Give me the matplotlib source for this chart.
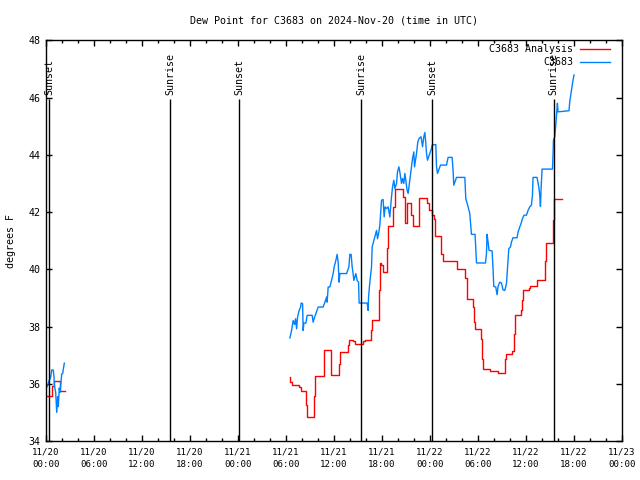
import numpy as np
import matplotlib
matplotlib.use('Agg')
import matplotlib.pyplot as plt
import matplotlib.dates as mdates

start = np.datetime64('2024-11-20T00:00')

# hours after 11/20 00:00 UTC, dew point in degrees F
obs_hours_a = [0.16, 0.375, 0.59, 0.71, 0.91, 1.0, 1.04, 1.21, 1.34, 1.46, 1.54,
               1.66, 1.75, 1.875, 1.96, 2.09, 2.16, 2.29]
obs_vals_a = [35.9, 36.1, 36.23, 36.48, 36.48, 36.23, 35.95, 35.7, 35.0, 35.55, 35.2,
              35.85, 35.7, 36.05, 36.34, 36.36, 36.5, 36.72]

obs_hours_b = [30.5, 30.71, 30.91, 31.09, 31.21, 31.34, 31.46, 31.66, 31.84, 31.91,
               32.09, 32.16, 32.25, 32.5, 32.66, 33.29, 33.41, 33.59, 33.75, 34.04,
               34.66, 34.88, 35.09, 35.16, 35.29, 35.5, 35.71, 35.91, 36.04, 36.25,
               36.41, 36.54, 36.66, 36.75, 37.59, 37.88, 38.0, 38.16, 38.29, 38.41,
               38.5, 38.75, 38.91, 39.09, 39.16, 40.16, 40.29, 40.34, 40.5, 40.71,
               40.79, 41.13, 41.34, 41.46, 41.63, 41.75, 41.88, 41.96, 42.16, 42.29,
               42.41, 42.59, 42.79, 43.0, 43.21, 43.34, 43.5, 43.63, 43.84, 43.96,
               44.13, 44.25, 44.46, 44.59, 44.75, 44.88, 45.0, 45.16, 45.29, 45.71,
               45.84, 46.0, 46.09, 46.34, 46.5, 46.66, 46.91, 47.09, 47.25, 47.38,
               47.5, 47.59, 47.71, 48.0, 48.21, 48.29, 48.75, 48.84, 48.96, 49.34,
               50.09, 50.29, 50.79, 50.91, 51.0, 51.34, 52.38, 52.5, 52.79, 53.0,
               53.13, 53.21, 53.66, 53.75, 53.84, 54.96, 55.09, 55.16, 55.29, 55.41,
               55.79, 55.91, 56.0, 56.25, 56.41, 56.54, 56.75, 56.96, 57.16, 57.38,
               57.59, 57.71, 57.88, 58.09, 58.21, 58.41, 58.91, 59.04, 59.25, 59.38,
               59.59, 59.79, 60.09, 60.29, 60.5, 60.71, 60.84, 60.91, 61.41, 61.63,
               61.75, 61.84, 61.91, 62.04, 63.34, 63.41, 63.46, 63.63, 63.84, 63.96,
               64.04, 65.41, 65.5, 65.63, 65.79, 65.91, 66.04]
obs_vals_b = [37.6, 37.86, 38.21, 38.07, 38.27, 37.92, 38.33, 38.56, 38.68, 38.82,
              38.8, 37.86, 38.12, 38.12, 38.39, 38.39, 38.15, 38.33, 38.45, 38.68,
              38.68, 38.85, 39.03, 38.85, 39.38, 39.38, 39.61, 39.85, 40.08, 40.31,
              40.52, 40.25, 39.55, 39.85, 39.85, 40.08, 40.52, 40.52, 40.08, 39.85,
              39.61, 39.85, 39.61, 39.55, 38.82, 38.82, 38.56, 39.03, 39.55, 40.08,
              40.78, 41.13, 41.36, 41.07, 41.3, 41.54, 42.06, 42.41, 42.44, 41.83,
              42.18, 42.12, 42.18, 41.83, 42.53, 42.88, 43.11, 42.82, 43.0, 43.4,
              43.58, 43.4, 43.0, 43.17, 43.0, 43.35, 43.11, 42.76, 42.65, 43.58,
              43.87, 44.1, 43.58, 44.05, 44.45, 44.57, 44.63, 44.28, 44.63, 44.78,
              44.4, 44.05, 43.81, 44.05, 44.22, 44.34, 44.36, 43.58, 43.35, 43.64,
              43.64, 43.91, 43.91, 43.46, 42.94, 43.21, 43.21, 42.47, 42.18, 41.95,
              41.48, 41.22, 41.22, 40.72, 40.22, 40.22, 40.55, 41.22, 40.95, 40.66,
              40.64, 40.02, 39.4, 39.38, 39.11, 39.4, 39.55, 39.52, 39.28, 39.26,
              39.5, 40.02, 40.72, 40.78, 40.95, 41.1, 41.1, 41.3, 41.48, 41.57,
              41.77, 41.89, 41.89, 42.06, 42.18, 42.24, 42.59, 43.21, 43.21, 42.88,
              42.59, 42.2, 42.76, 43.5, 43.5, 43.99, 44.51, 44.63, 45.33, 45.8,
              45.5, 45.54, 45.85, 46.09, 46.38, 46.61, 46.79]

# hourly analysis, step values (last value repeated to close the step)
ana_hours_a = [0.08, 0.71, 0.96, 1.75, 2.38]
ana_vals_a = [35.57, 35.93, 36.11, 35.76, 35.76]

ana_hours_b = [30.5, 30.56, 30.79, 31.66, 31.88, 32.54, 32.66, 33.54, 33.66, 34.71,
               34.79, 35.66, 36.66, 36.79, 37.71, 37.84, 38.41, 38.66, 39.59, 39.84,
               40.66, 40.79, 41.66, 41.79, 41.91, 42.16, 42.66, 42.79, 43.41, 43.63,
               44.66, 44.84, 44.96, 45.21, 45.71, 45.84, 46.66, 47.63, 47.88, 48.29,
               48.5, 48.63, 49.46, 49.66, 51.41, 52.38, 52.59, 53.41, 53.54, 53.66,
               54.38, 54.5, 54.66, 55.59, 56.54, 57.38, 57.59, 58.34, 58.5, 58.66,
               59.38, 59.5, 59.66, 60.41, 60.59, 61.46, 62.41, 62.59, 63.41, 63.5,
               64.59]
ana_vals_b = [36.25, 36.05, 35.94, 35.88, 35.73, 35.27, 34.85, 35.56, 36.27, 36.74,
              37.18, 36.31, 36.7, 37.12, 37.34, 37.54, 37.48, 37.4, 37.48, 37.54,
              37.89, 38.24, 39.26, 40.23, 40.14, 39.92, 40.74, 41.51, 42.18, 42.82,
              42.53, 42.0, 41.6, 42.3, 41.89, 41.5, 42.5, 42.3, 42.06, 41.89,
              41.77, 41.15, 40.54, 40.29, 40.0, 39.7, 38.95, 38.68, 38.15, 37.9,
              37.57, 36.87, 36.52, 36.43, 36.38, 36.87, 37.04, 37.16, 37.75, 38.39,
              38.56, 38.91, 39.26, 39.34, 39.43, 39.61, 40.28, 40.93, 41.71, 42.47,
              42.47]

sunset_hours = [0.375, 24.14, 48.31]
sunrise_hours = [15.51, 39.43, 63.49]


def to_time(hours):
    return start + (np.array(hours) * 3600).astype('timedelta64[s]')


plt.rcParams['font.family'] = 'DejaVu Sans Mono'
plt.rcParams['font.size'] = 7

fig = plt.figure(figsize=(6.4, 4.8), dpi=100)
ax = fig.add_axes([0.0719, 0.0813, 0.8995, 0.8347])

red = '#ff0000'
blue = '#0080ff'

ax.step(to_time(ana_hours_a), ana_vals_a, where='post', color=red, lw=1.0,
        label='C3683 Analysis')
ax.step(to_time(ana_hours_b), ana_vals_b, where='post', color=red, lw=1.0)
ax.plot(to_time(obs_hours_a), obs_vals_a, color=blue, lw=1.0, label='C3683')
ax.plot(to_time(obs_hours_b), obs_vals_b, color=blue, lw=1.0)

for h in sunset_hours:
    t = to_time([h])[0]
    ax.vlines(t, 34, 45.95, color='black', lw=1.0)
    ax.text(t, 46.1, 'Sunset', rotation=90, ha='center', va='bottom', fontsize=7.2)
for h in sunrise_hours:
    t = to_time([h])[0]
    ax.vlines(t, 34, 45.95, color='black', lw=1.0)
    ax.text(t, 46.1, 'Sunrise', rotation=90, ha='center', va='bottom', fontsize=7.2)

ax.set_xlim(start, start + np.timedelta64(72, 'h'))
ax.set_ylim(34, 48)
ax.set_yticks(np.arange(34, 49, 2))
ax.xaxis.set_major_locator(mdates.HourLocator(byhour=range(0, 24, 6)))
ax.xaxis.set_minor_locator(mdates.HourLocator(interval=2))
ax.xaxis.set_major_formatter(mdates.DateFormatter('%m/%d\n%H:%M'))
ax.tick_params(which='both', direction='in', top=True, right=True, width=1.0)
ax.tick_params(which='major', length=4.5, pad=4)
ax.tick_params(axis='x', which='major', labelsize=6.6, pad=5)
ax.tick_params(axis='y', which='major', labelsize=7.2)
ax.tick_params(which='minor', length=2.2)
for lbl in ax.get_xticklabels():
    lbl.set_linespacing(1.5)
for s in ax.spines.values():
    s.set_linewidth(1.0)

ax.set_title('Dew Point for C3683 on 2024-Nov-20 (time in UTC)', fontsize=7.2, pad=12)
ax.set_ylabel('degrees F', fontsize=7.2, labelpad=9)

ax.legend(loc='upper right', bbox_to_anchor=(0.984, 0.995), frameon=False,
          markerfirst=False, handlelength=3.0, handletextpad=0.7, fontsize=7.2,
          labelspacing=0.3, borderaxespad=0.2, borderpad=0)

fig.savefig('out.png', dpi=100)
